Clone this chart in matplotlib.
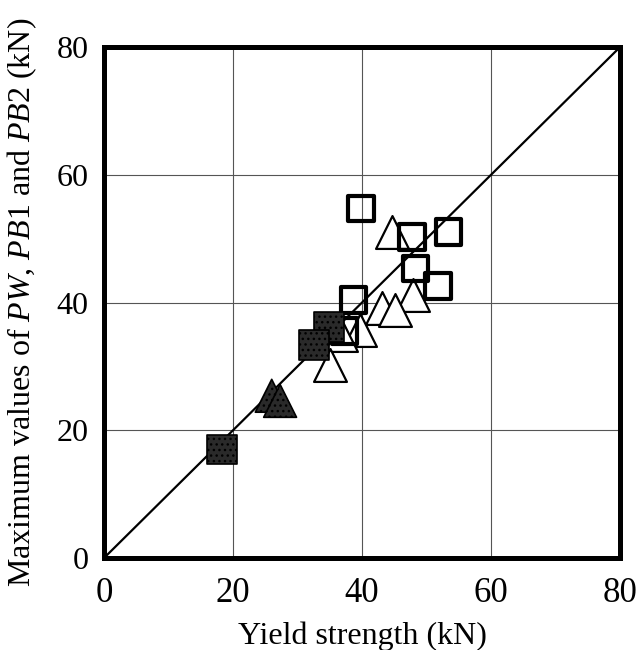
import numpy as np
import matplotlib.pyplot as plt

plt.rcParams['font.family'] = ['Liberation Serif', 'DejaVu Serif']
plt.rcParams['mathtext.fontset'] = 'custom'
plt.rcParams['mathtext.it'] = 'Liberation Serif:italic'
plt.rcParams['mathtext.rm'] = 'Liberation Serif'

# open squares
sq_x = [39.8, 47.7, 53.4, 48.3, 51.8, 38.7, 37.3]
sq_y = [54.7, 50.3, 51.0, 45.3, 42.6, 40.4, 35.5]
# open triangles
tri_x = [44.6, 47.9, 43.1, 45.1, 39.7, 36.8, 35.0]
tri_y = [51.1, 41.2, 39.1, 38.8, 35.7, 34.9, 30.2]
# filled squares
fsq_x = [34.9, 32.5, 18.3]
fsq_y = [36.2, 33.3, 17.0]
# filled triangles
ftri_x = [26.0, 27.3]
ftri_y = [25.4, 24.6]

fig = plt.figure(figsize=(6.36, 6.5), dpi=100)
ax = fig.add_axes([0.1635, 0.1415, 0.8115, 0.7862])

ax.set_xlim(0, 80)
ax.set_ylim(0, 80)
ax.set_xticks([0, 20, 40, 60, 80])
ax.set_yticks([0, 20, 40, 60, 80])
ax.grid(True, color='#555555', linewidth=0.8)
ax.set_axisbelow(True)
ax.tick_params(length=0)
ax.tick_params(axis='x', pad=14, labelsize=25)
ax.tick_params(axis='y', pad=11, labelsize=23)
for s in ax.spines.values():
    s.set_linewidth(3.6)

ax.plot([0, 80], [0, 80], color='black', linewidth=1.6, zorder=2)

ax.scatter(tri_x, tri_y, marker='^', s=560, facecolor='white',
           edgecolor='black', linewidth=1.6, zorder=3)
ax.scatter(sq_x, sq_y, marker='s', s=340, facecolor='none',
           edgecolor='black', linewidth=3.0, zorder=4)
ax.scatter(ftri_x, ftri_y, marker='^', s=560, facecolor='#2a2a2a',
           edgecolor='black', linewidth=1.2, hatch='...', zorder=5)
ax.scatter(fsq_x, fsq_y, marker='s', s=460, facecolor='#2a2a2a',
           edgecolor='black', linewidth=1.2, hatch='...', zorder=5)

ax.set_xlabel('Yield strength (kN)', fontsize=23, labelpad=8)
ax.set_ylabel('Maximum values of $PW$, $PB$1 and $PB$2 (kN)', fontsize=23,
              labelpad=13)

plt.savefig('out.png', dpi=100)
